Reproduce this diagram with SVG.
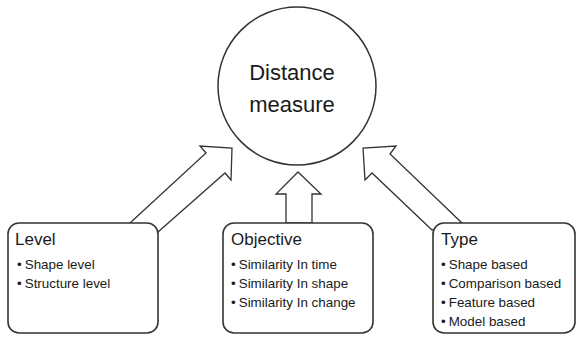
<svg xmlns="http://www.w3.org/2000/svg" width="577" height="346" viewBox="0 0 577 346">
<style>
.arrow{fill:#fff;stroke:#333;stroke-width:1.3;stroke-linejoin:miter}
.box{fill:#fff;stroke:#333;stroke-width:1.6}
.circ{fill:#fff;stroke:#333;stroke-width:1.5}
text{font-family:"Liberation Sans",Arial,sans-serif;fill:#1a1a1a}
.title{font-size:17px}
.item{font-size:13.4px}
.main{font-size:22px}
</style>
<rect width="577" height="346" fill="#fff"/>
<g id="distance-measure">
<circle class="circ" cx="297" cy="86" r="79"/>
<text class="main" x="292" y="80" text-anchor="middle">Distance</text>
<text class="main" x="292" y="112" text-anchor="middle">measure</text>
</g>
<g id="connectors">
<polygon class="arrow" points="130,223 206,153 200,146 232,148 231,180 225,173 158,232"/>
<polygon class="arrow" points="286,223 286,194 276,194 298,172 321,194 312,194 312,223"/>
<polygon class="arrow" points="462,223 390,154 396,146 363,148 365,180 372,173 432,230"/>
</g>
<g id="level">
<rect class="box" x="8" y="223" width="150" height="110" rx="11"/>
<text class="title" x="15" y="245">Level</text>
<text class="item" x="17" y="269">•<tspan dx="3">Shape level</tspan></text>
<text class="item" x="17" y="288">•<tspan dx="3">Structure level</tspan></text>
</g>
<g id="objective">
<rect class="box" x="223" y="223" width="150" height="110" rx="11"/>
<text class="title" x="231" y="245">Objective</text>
<text class="item" x="231" y="269">•<tspan dx="3">Similarity In time</tspan></text>
<text class="item" x="231" y="288">•<tspan dx="3">Similarity In shape</tspan></text>
<text class="item" x="231" y="307">•<tspan dx="3">Similarity In change</tspan></text>
</g>
<g id="type">
<rect class="box" x="433" y="223" width="142" height="110" rx="11"/>
<text class="title" x="441" y="245">Type</text>
<text class="item" x="441" y="269">•<tspan dx="3">Shape based</tspan></text>
<text class="item" x="441" y="288">•<tspan dx="3">Comparison based</tspan></text>
<text class="item" x="441" y="307">•<tspan dx="3">Feature based</tspan></text>
<text class="item" x="441" y="326">•<tspan dx="3">Model based</tspan></text>
</g>
</svg>
